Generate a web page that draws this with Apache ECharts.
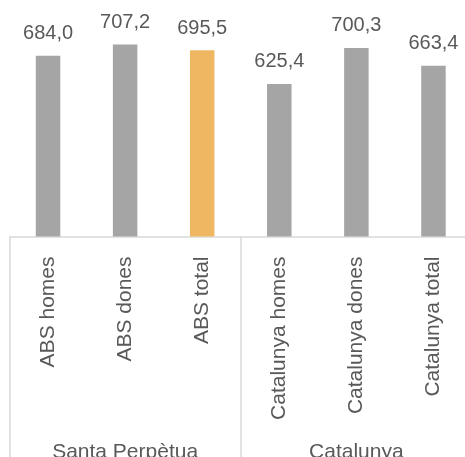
<!DOCTYPE html>
<html>
<head>
<meta charset="utf-8">
<script src="https://cdn.jsdelivr.net/npm/echarts@6/dist/echarts.min.js"></script>
<style>
  html, body { margin: 0; padding: 0; background: #ffffff; }
  #chart { width: 465px; height: 457px; }
</style>
</head>
<body>
<div id="chart"></div>
<script>
// Ranking values per group
const categories = ['ABS homes', 'ABS dones', 'ABS total', 'Catalunya homes', 'Catalunya dones', 'Catalunya total'];
const values = [684.0, 707.2, 695.5, 625.4, 700.3, 663.4];
const groups = ['Santa Perpètua', 'Catalunya'];
const highlighted = 'ABS total';

const FONT = '"Liberation Sans", Arial, sans-serif';
const TEXT = '#595959';
const RULE = '#d9d9d9';

const chart = echarts.init(document.getElementById('chart'), null, { renderer: 'canvas' });

// Decimal comma, one decimal place
const fmt = v => v.toFixed(1).replace('.', ',');

chart.setOption({
  animation: false,
  backgroundColor: '#ffffff',
  grid: { left: 9.5, top: 0, width: 462.5, height: 236.5, containLabel: false, outerBoundsMode: 'none' },
  xAxis: [
    {
      // inner level: one category per bar, rotated names
      type: 'category',
      data: categories,
      position: 'bottom',
      axisLine: { show: true, lineStyle: { color: RULE, width: 1.5 } },
      axisTick: { show: false },
      axisLabel: {
        rotate: 90,
        interval: 0,
        margin: 20,
        color: TEXT,
        fontFamily: FONT,
        fontSize: 21
      },
      splitLine: { show: false }
    },
    {
      // outer level: group names with long ticks as separators
      type: 'category',
      data: groups,
      position: 'bottom',
      axisLine: { show: false },
      axisTick: {
        show: true,
        interval: 0,
        alignWithLabel: false,
        length: 230,
        lineStyle: { color: RULE, width: 1.5 }
      },
      axisLabel: {
        interval: 0,
        margin: 205,
        color: TEXT,
        fontFamily: FONT,
        fontSize: 21
      },
      splitLine: { show: false }
    }
  ],
  yAxis: {
    type: 'value',
    min: 308,
    max: 800,
    show: false,
    splitLine: { show: false }
  },
  series: [
    {
      type: 'bar',
      xAxisIndex: 0,
      barWidth: 24.5,
      data: values.map((v, i) => ({
        value: v,
        itemStyle: { color: categories[i] === highlighted ? '#F0B763' : '#A5A5A5' }
      })),
      label: {
        show: true,
        position: 'top',
        distance: 12,
        color: TEXT,
        fontFamily: FONT,
        fontSize: 20,
        formatter: p => fmt(p.value)
      }
    }
  ]
});
</script>
</body>
</html>
